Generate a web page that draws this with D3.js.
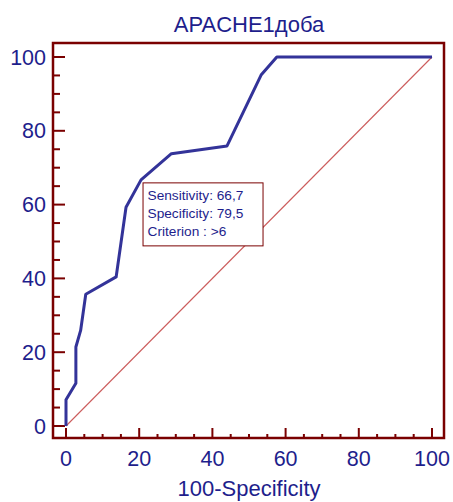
<!DOCTYPE html>
<html>
<head>
<meta charset="utf-8">
<script src="https://cdn.jsdelivr.net/npm/d3@7"></script>
<style>
  body { margin: 0; background: #fff; }
  text { font-family: "Liberation Sans", Arial, sans-serif; }
</style>
</head>
<body>
<svg id="chart" width="453" height="502"></svg>
<script>
// ROC curve points (100-Specificity, Sensitivity)
const fpr = [0, 0, 2.7, 2.7, 4.0, 5.4, 13.7, 16.4, 20.5, 28.8, 44.0, 53.3, 57.6, 100];
const tpr = [0, 7.1, 11.6, 21.4, 25.9, 35.7, 40.4, 59.3, 66.7, 73.8, 75.9, 95.1, 100, 100];
const ticks = [0, 20, 40, 60, 80, 100];
const minorTicks = d3.range(0, 101, 5);
const title = "APACHE1доба";
const xTitle = "100-Specificity";
const bestPoint = { x: 20.5, y: 66.7 };
const annotation = ["Sensitivity: 66,7", "Specificity: 79,5", "Criterion : >6"];

const svg = d3.select("#chart");
const frame = { left: 53, right: 444, top: 43, bottom: 438 };
const dark = "#7a0000";
const blue = "#1e1e8c";

const x = d3.scaleLinear().domain([0, 100]).range([66, 432]);
const y = d3.scaleLinear().domain([0, 100]).range([426, 57]);

// frame
svg.append("rect")
  .attr("x", frame.left).attr("y", frame.top)
  .attr("width", frame.right - frame.left)
  .attr("height", frame.bottom - frame.top)
  .attr("fill", "none").attr("stroke", dark).attr("stroke-width", 2.5);

// x ticks (pointing inward from bottom)
svg.append("g").selectAll("line")
  .data(minorTicks)
  .enter().append("line")
  .attr("x1", d => x(d)).attr("x2", d => x(d))
  .attr("y1", frame.bottom)
  .attr("y2", d => frame.bottom - (d % 20 === 0 ? 10 : 4))
  .attr("stroke", dark).attr("stroke-width", 2);

// y ticks (pointing inward from left)
svg.append("g").selectAll("line")
  .data(minorTicks)
  .enter().append("line")
  .attr("y1", d => y(d)).attr("y2", d => y(d))
  .attr("x1", frame.left)
  .attr("x2", d => frame.left + (d % 20 === 0 ? 12 : 7))
  .attr("stroke", dark).attr("stroke-width", 2);

// tick labels
svg.append("g").selectAll("text")
  .data(ticks)
  .enter().append("text")
  .attr("x", d => x(d)).attr("y", 466)
  .attr("text-anchor", "middle")
  .attr("font-size", 21.5).attr("fill", blue)
  .text(d => d);

svg.append("g").selectAll("text")
  .data(ticks)
  .enter().append("text")
  .attr("x", 46).attr("y", d => y(d) + 7.5)
  .attr("text-anchor", "end")
  .attr("font-size", 21.5).attr("fill", blue)
  .text(d => d);

// titles
svg.append("text")
  .attr("x", 249).attr("y", 32)
  .attr("text-anchor", "middle")
  .attr("font-size", 22).attr("fill", blue)
  .text(title);

svg.append("text")
  .attr("x", 249).attr("y", 496)
  .attr("text-anchor", "middle")
  .attr("font-size", 22).attr("fill", blue)
  .text(xTitle);

// diagonal reference line
svg.append("path")
  .attr("d", d3.line()([[x(0), y(0)], [x(100), y(100)]]))
  .attr("fill", "none")
  .attr("stroke", "#cc5c5c").attr("stroke-width", 1.1);

// ROC curve
const line = d3.line().x(d => x(d[0])).y(d => y(d[1]));
svg.append("path")
  .datum(d3.zip(fpr, tpr))
  .attr("d", line)
  .attr("fill", "none")
  .attr("stroke", "#333399")
  .attr("stroke-width", 3)
  .attr("stroke-linejoin", "round");

// annotation box
const bx = x(bestPoint.x) + 2, by = y(bestPoint.y) + 3;
svg.append("rect")
  .attr("x", bx).attr("y", by)
  .attr("width", 120).attr("height", 63)
  .attr("fill", "#fff").attr("stroke", dark).attr("stroke-width", 1);

svg.append("g").selectAll("text")
  .data(annotation)
  .enter().append("text")
  .attr("x", bx + 4.5)
  .attr("y", (d, i) => by + 17.5 + i * 18)
  .attr("font-size", 13.7).attr("fill", blue)
  .text(d => d);
</script>
</body>
</html>
